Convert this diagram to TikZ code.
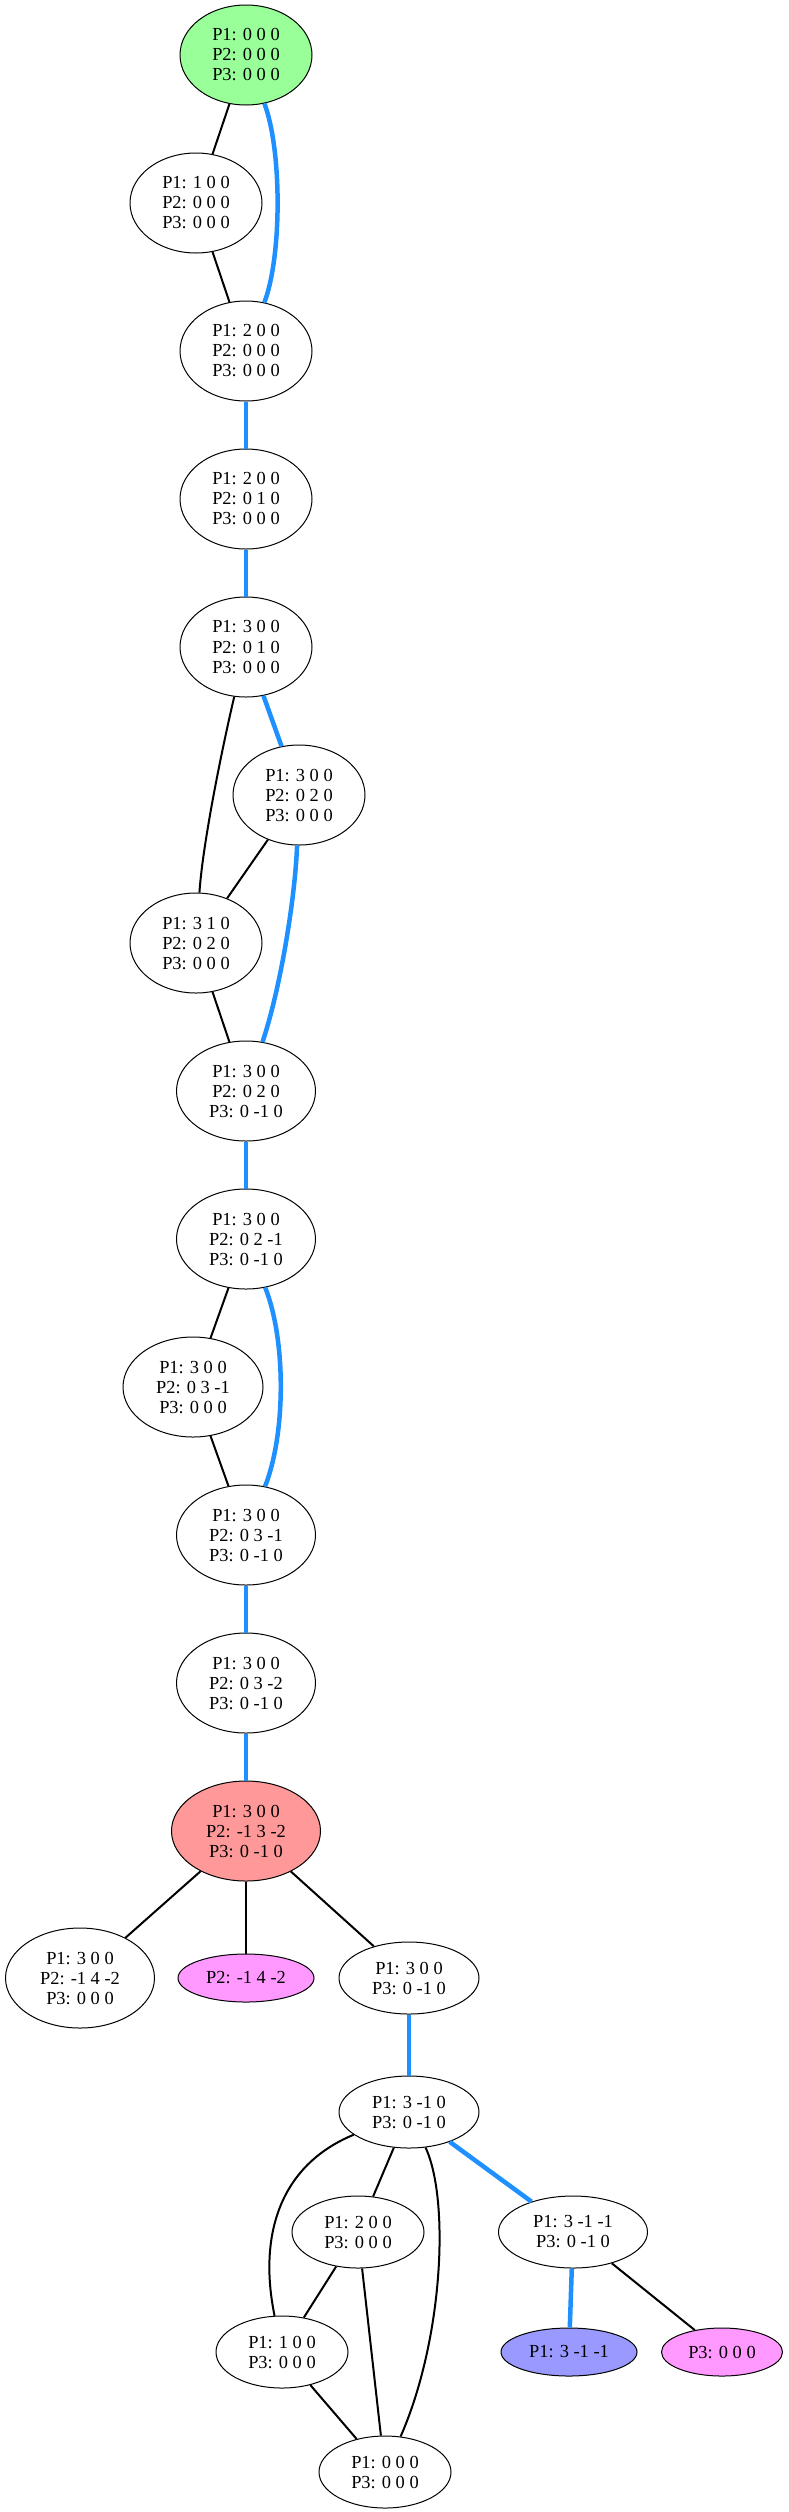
\documentclass[tikz,border=0pt]{standalone}
\usepackage{fontspec}
\setmainfont{Liberation Serif}
\usetikzlibrary{shapes.geometric}
\definecolor{gfill}{HTML}{99FF99}
\definecolor{rfill}{HTML}{FF9999}
\definecolor{mfill}{HTML}{FF99FF}
\definecolor{bfill}{HTML}{9999FF}
\definecolor{eblue}{HTML}{1E90FF}
\tikzset{
  st/.style={ellipse, draw=black, line width=1pt, inner sep=0pt, align=center,
    font=\fontsize{18.4}{20}\selectfont, minimum width=132pt, minimum height=72pt},
  three/.style={st, minimum height=100pt},
  one/.style={st, minimum height=48pt},
  bl/.style={draw=black, line width=2pt},
  bu/.style={draw=eblue, line width=4.5pt},
}
\begin{document}
\begin{tikzpicture}[x=1pt,y=-1pt]
\useasboundingbox (0,0) rectangle (788,2512);
% chain
\node[three, fill=gfill] (n1) at (246,55) {P1: 0 0 0\\P2: 0 0 0\\P3: 0 0 0};
\node[three] (n2) at (196,203) {P1: 1 0 0\\P2: 0 0 0\\P3: 0 0 0};
\node[three] (n3) at (246,351) {P1: 2 0 0\\P2: 0 0 0\\P3: 0 0 0};
\node[three] (n4) at (246,499) {P1: 2 0 0\\P2: 0 1 0\\P3: 0 0 0};
\node[three] (n5) at (246,647) {P1: 3 0 0\\P2: 0 1 0\\P3: 0 0 0};
\node[three] (n6) at (299,795) {P1: 3 0 0\\P2: 0 2 0\\P3: 0 0 0};
\node[three] (n7) at (196,943) {P1: 3 1 0\\P2: 0 2 0\\P3: 0 0 0};
\node[three, minimum width=139pt] (n8) at (246,1091) {P1: 3 0 0\\P2: 0 2 0\\P3: 0 -1 0};
\node[three, minimum width=139pt] (n9) at (246,1239) {P1: 3 0 0\\P2: 0 2 -1\\P3: 0 -1 0};
\node[three, minimum width=140pt] (n10) at (193,1387) {P1: 3 0 0\\P2: 0 3 -1\\P3: 0 0 0};
\node[three, minimum width=139pt] (n11) at (246,1535) {P1: 3 0 0\\P2: 0 3 -1\\P3: 0 -1 0};
\node[three, minimum width=139pt] (n12) at (246,1683) {P1: 3 0 0\\P2: 0 3 -2\\P3: 0 -1 0};
\node[three, minimum width=149pt, fill=rfill] (n13) at (246,1831) {P1: 3 0 0\\P2: -1 3 -2\\P3: 0 -1 0};
% lower part
\node[three, minimum width=149pt] (L1) at (80,1978) {P1: 3 0 0\\P2: -1 4 -2\\P3: 0 0 0};
\node[one, minimum width=136pt, fill=mfill] (M1) at (246,1978) {P2: -1 4 -2};
\node[st, minimum width=140pt] (R1) at (409,1978) {P1: 3 0 0\\P3: 0 -1 0};
\node[st, minimum width=140pt] (A) at (409,2112) {P1: 3 -1 0\\P3: 0 -1 0};
\node[st] (B) at (358,2232) {P1: 2 0 0\\P3: 0 0 0};
\node[st, minimum width=149pt] (C) at (573,2232) {P1: 3 -1 -1\\P3: 0 -1 0};
\node[st] (D) at (282,2352) {P1: 1 0 0\\P3: 0 0 0};
\node[one, minimum width=136pt, fill=bfill] (E) at (569,2352) {P1: 3 -1 -1};
\node[one, minimum width=121pt, fill=mfill] (F) at (722,2352) {P3: 0 0 0};
\node[st] (G) at (385,2472) {P1: 0 0 0\\P3: 0 0 0};
% edges
\draw[bl] (n1) -- (n2);
\draw[bl] (n2) -- (n3);
\draw[bu] (n1) .. controls (282,150) and (282,256) .. (n3);
\draw[bu] (n3) -- (n4);
\draw[bu] (n4) -- (n5);
\draw[bl] (n5) .. controls (224,740) and (203,840) .. (n7);
\draw[bu] (n5) -- (n6);
\draw[bl] (n6) -- (n7);
\draw[bu] (n6) .. controls (295,900) and (280,990) .. (n8);
\draw[bl] (n7) -- (n8);
\draw[bu] (n8) -- (n9);
\draw[bl] (n9) -- (n10);
\draw[bl] (n10) -- (n11);
\draw[bu] (n9) .. controls (286,1340) and (286,1433) .. (n11);
\draw[bu] (n11) -- (n12);
\draw[bu] (n12) -- (n13);
\draw[bl] (n13) -- (L1);
\draw[bl] (n13) -- (M1);
\draw[bl] (n13) -- (R1);
\draw[bu] (R1) -- (A);
\draw[bl] (A) -- (B);
\draw[bl] (A) .. controls (280,2165) and (258,2235) .. (D);
\draw[bl] (A) .. controls (450,2200) and (443,2340) .. (G);
\draw[bu] (A) -- (C);
\draw[bl] (B) -- (D);
\draw[bl] (B) -- (G);
\draw[bl] (D) -- (G);
\draw[bu] (C) -- (E);
\draw[bl] (C) -- (F);
\end{tikzpicture}
\end{document}
